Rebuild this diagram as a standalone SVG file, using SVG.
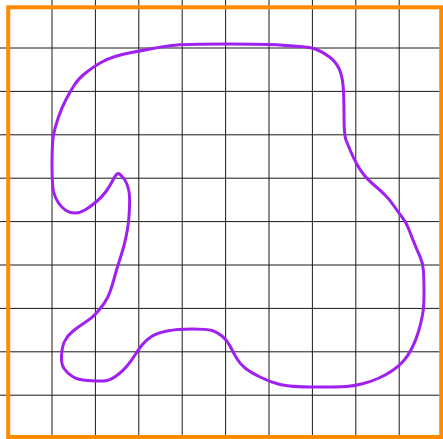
<svg xmlns="http://www.w3.org/2000/svg" width="443" height="439" viewBox="0 0 443 439">
<style>
.grid line{stroke:#1a1a1a;stroke-width:1}
.frame{fill:none;stroke:#ff8c00;stroke-width:4}
.blob{fill:none;stroke:#a020f0;stroke-width:3;stroke-linejoin:round;stroke-linecap:round}
</style>
<rect width="443" height="439" fill="#fff"/>
<g id="grid" class="grid">
<line x1="52" y1="0" x2="52" y2="439"/>
<line x1="95.4" y1="0" x2="95.4" y2="439"/>
<line x1="138.8" y1="0" x2="138.8" y2="439"/>
<line x1="182.2" y1="0" x2="182.2" y2="439"/>
<line x1="225.6" y1="0" x2="225.6" y2="439"/>
<line x1="269" y1="0" x2="269" y2="439"/>
<line x1="312.4" y1="0" x2="312.4" y2="439"/>
<line x1="355.8" y1="0" x2="355.8" y2="439"/>
<line x1="399.2" y1="0" x2="399.2" y2="439"/>
<line x1="0" y1="48" x2="443" y2="48"/>
<line x1="0" y1="91.4" x2="443" y2="91.4"/>
<line x1="0" y1="134.8" x2="443" y2="134.8"/>
<line x1="0" y1="178.2" x2="443" y2="178.2"/>
<line x1="0" y1="221.6" x2="443" y2="221.6"/>
<line x1="0" y1="265" x2="443" y2="265"/>
<line x1="0" y1="308.4" x2="443" y2="308.4"/>
<line x1="0" y1="351.8" x2="443" y2="351.8"/>
<line x1="0" y1="395.2" x2="443" y2="395.2"/>
</g>
<rect id="frame" class="frame" x="8.2" y="7.3" width="433" height="429.7"/>
<g id="shape">
<path class="blob" d="M171.5,45.5 Q183,44 226.5,44 Q270,44 280,45 Q290,46 300,46.5 Q310,47 316.5,49.5 Q323,52 329.5,57 Q336,62 339,68.5 Q342,75 343,85 Q344,95 344,115 Q344,135 346,140 Q348,145 350.5,151 Q353,157 356.5,163.5 Q360,170 364,175 Q368,180 374,185 Q380,190 385,195 Q390,200 394,206 Q398,212 402,217 Q406,222 408.5,228.5 Q411,235 414,242.5 Q417,250 420,256.5 Q423,263 423.5,271.5 Q424,280 424,293.5 Q424,307 422.5,315 Q421,323 418.5,331.5 Q416,340 412,348 Q408,356 403.5,361 Q399,366 392.5,370.5 Q386,375 378,378.5 Q370,382 361.5,384 Q353,386 346.5,386.5 Q340,387 315,387 Q290,387 280,384.5 Q270,382 260,377 Q250,372 245,368 Q240,364 236.5,358 Q233,352 230,346 Q227,340 222,336 Q217,332 212,330.5 Q207,329 192,329 Q177,329 167,331 Q157,333 151.5,336.5 Q146,340 142,345 Q138,350 135,355 Q132,360 127,366 Q122,372 115.5,376.5 Q109,381 103,381 Q97,381 87.5,380.5 Q78,380 72.5,376.5 Q67,373 64,368.5 Q61,364 61.5,355.5 Q62,347 64.5,341.5 Q67,336 72.5,331.5 Q78,327 85,322.5 Q92,318 96,313.5 Q100,309 104,303.5 Q108,298 110.5,290.5 Q113,283 115,275.5 Q117,268 119.5,260.5 Q122,253 124,245.5 Q126,238 127.5,229 Q129,220 129.5,207.5 Q130,195 128.5,189 Q127,183 124.5,179.5 Q122,176 119.5,174 Q117,172 113.5,179 Q110,186 106,191.5 Q102,197 96,202 Q90,207 85,210 Q80,213 75,213 Q70,213 66,210.5 Q62,208 58.5,203 Q55,198 53.5,191.5 Q52,185 52,164 Q52,143 53.5,135 Q55,127 58.5,117 Q62,107 66,99.5 Q70,92 74,85.5 Q78,79 85.5,73 Q93,67 100,63 Q107,59 115,56.5 Q123,54 131.5,52.5 Q140,51 150,49 Q160,47 171.5,45.5 Z"/>
</g>
</svg>
